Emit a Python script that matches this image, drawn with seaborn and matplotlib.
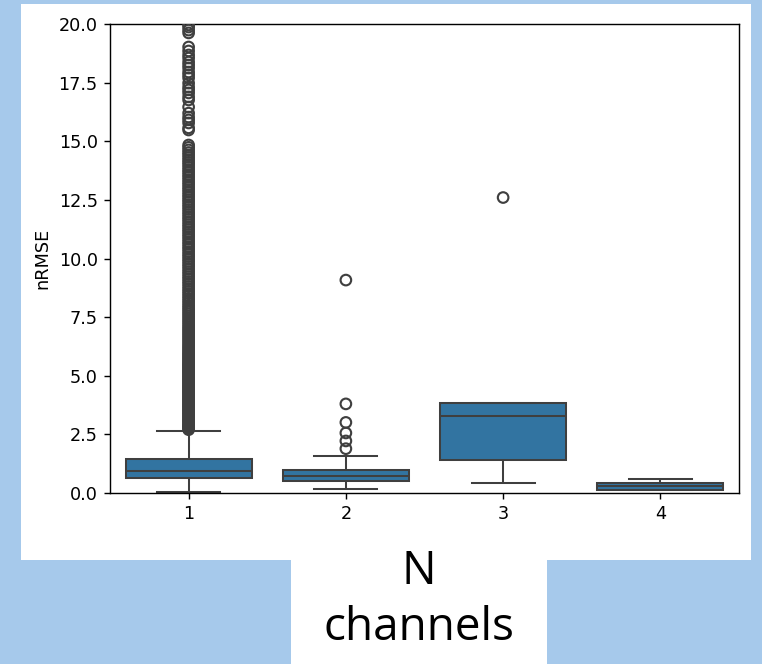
import numpy as np
import pandas as pd
import matplotlib
matplotlib.use("Agg")
import matplotlib.pyplot as plt
from matplotlib.patches import Rectangle
import seaborn as sns

plt.rcParams["font.family"] = ["DejaVu Sans"]

# Channel counts on the x axis
channels = [1, 2, 3, 4]

# Whisker ends and quartiles of nRMSE per channel count
whisker_low = [0.03, 0.16, 0.44, 0.13]
quartile_1 = [0.64, 0.53, 1.39, 0.14]
medians = [0.92, 0.72, 3.30, 0.29]
quartile_3 = [1.45, 0.98, 3.82, 0.44]
whisker_high = [2.64, 1.58, 3.82, 0.60]

# Points beyond the whiskers
outliers_1 = [
    20.30, 19.96, 19.87, 19.74, 19.62, 19.02, 18.85, 18.68, 18.55, 18.38,
    18.25, 18.12, 17.95, 17.83, 17.70, 17.48, 17.31, 17.19, 17.06, 16.89,
    16.76, 16.46, 16.20, 16.03, 15.91, 15.78, 15.57, 15.48,
    14.84, 14.74, 14.63, 14.52, 14.42, 14.31, 14.20, 14.10, 14.00, 13.89,
    13.78, 13.68, 13.57, 13.47, 13.36, 13.25, 13.15, 13.04, 12.94, 12.83,
    12.72, 12.62, 12.51, 12.41, 12.30, 12.20, 12.09, 11.98, 11.88, 11.77,
    11.67, 11.56, 11.45, 11.35, 11.24, 11.14, 11.03, 10.93, 10.82, 10.71,
    10.61, 10.50, 10.40, 10.29, 10.18, 10.08, 9.97, 9.87, 9.76, 9.66,
    9.55, 9.44, 9.34, 9.23, 9.13, 9.02, 8.92, 8.81, 8.70, 8.60,
    8.50, 8.40, 8.30, 8.20, 8.10, 8.00, 7.91, 7.82, 7.73, 7.64,
    7.55, 7.46, 7.37, 7.28, 7.19, 7.10, 7.02, 6.94, 6.86, 6.78,
    6.70, 6.62, 6.54, 6.46, 6.38, 6.30, 6.23, 6.16, 6.09, 6.02,
    5.96, 5.90, 5.84, 5.78, 5.72, 5.66, 5.60, 5.55, 5.50, 5.45,
    5.40, 5.35, 5.30, 5.25, 5.20, 5.15, 5.10, 5.05, 5.00, 4.95,
    4.90, 4.85, 4.80, 4.75, 4.70, 4.65, 4.60, 4.55, 4.50, 4.45,
    4.40, 4.35, 4.30, 4.25, 4.20, 4.15, 4.10, 4.05, 4.00, 3.95,
    3.90, 3.85, 3.80, 3.75, 3.70, 3.65, 3.60, 3.55, 3.50, 3.45,
    3.40, 3.35, 3.30, 3.25, 3.20, 3.15, 3.10, 3.05, 3.00, 2.95,
    2.90, 2.86, 2.82, 2.78, 2.74, 2.70,
]
outliers_2 = [9.08, 3.80, 3.01, 2.56, 2.22, 1.89]
outliers_3 = [12.60]
outliers_4 = []

y_ticks = [0.0, 2.5, 5.0, 7.5, 10.0, 12.5, 15.0, 17.5, 20.0]

# Long-form tables for seaborn
core_rows = []
for i, ch in enumerate(channels):
    for v in (whisker_low[i], quartile_1[i], medians[i], quartile_3[i], whisker_high[i]):
        core_rows.append({"n_channels": ch, "nRMSE": v})
core = pd.DataFrame(core_rows)

flier_rows = []
for ch, vals in zip(channels, [outliers_1, outliers_2, outliers_3, outliers_4]):
    for v in vals:
        flier_rows.append({"n_channels": ch, "nRMSE": v})
fliers = pd.DataFrame(flier_rows)

DPI = 127
W, H = 762, 664
fig = plt.figure(figsize=(W / DPI, H / DPI), dpi=DPI)
fig.patch.set_facecolor("#a6c9eb")

# White panels behind the chart and the caption
fig.add_artist(Rectangle((21 / W, 1 - 560 / H), (751 - 21) / W, (560 - 4) / H,
                         transform=fig.transFigure, facecolor="white",
                         edgecolor="none", zorder=-2))
fig.add_artist(Rectangle((291 / W, 0), (547 - 291) / W, 104 / H,
                         transform=fig.transFigure, facecolor="white",
                         edgecolor="none", zorder=-2))

ax = fig.add_axes([110 / W, 1 - 493 / H, (739 - 110) / W, (493 - 24) / H])

sns.boxplot(data=core, x="n_channels", y="nRMSE", order=channels,
            color="#1f77b4", showfliers=False, linewidth=1.15, ax=ax)

line_color = ax.lines[0].get_color()
n_before = len(ax.collections)
sns.stripplot(data=fliers, x="n_channels", y="nRMSE", order=channels,
              jitter=False, size=6, color=line_color, ax=ax, zorder=3)
for coll in ax.collections[n_before:]:
    coll.set_facecolor("none")
    coll.set_edgecolor(line_color)
    coll.set_linewidth(1.2)

ax.set_ylim(0, 20)
ax.set_yticks(y_ticks)
ax.set_xlim(-0.5, 3.5)
ax.set_xlabel("")
ax.set_ylabel("nRMSE")

fig.text(419 / W, 1 - 572 / H, "N", ha="center", va="center",
         fontsize=26, family="Open Sans", color="black")
fig.text(419 / W, 1 - 628 / H, "channels", ha="center", va="center",
         fontsize=26, family="Open Sans", color="black")

fig.savefig("out.png", dpi=DPI)
